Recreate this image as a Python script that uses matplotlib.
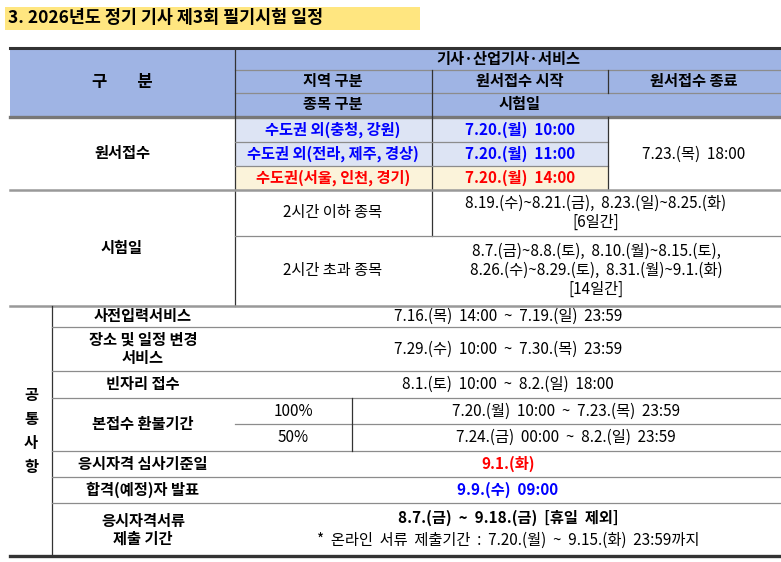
import matplotlib
matplotlib.use("Agg")
import matplotlib.pyplot as plt
from matplotlib.patches import Rectangle

plt.rcParams['font.family'] = ['Noto Sans CJK KR', 'DejaVu Sans']

title = "3. 2026년도 정기 기사 제3회 필기시험 일정"
header_top = "기사·산업기사·서비스"
header_cols = ["지역 구분", "원서접수 시작", "원서접수 종료"]
header_sub = ["종목 구분", "시험일"]
regions = ["수도권 외(충청, 강원)", "수도권 외(전라, 제주, 경상)", "수도권(서울, 인천, 경기)"]
starts = ["7.20.(월)  10:00", "7.20.(월)  11:00", "7.20.(월)  14:00"]
end_date = "7.23.(목)  18:00"
exam_types = ["2시간 이하 종목", "2시간 초과 종목"]
exam_dates = ["8.19.(수)~8.21.(금),  8.23.(일)~8.25.(화)\n[6일간]",
              "8.7.(금)~8.8.(토),  8.10.(월)~8.15.(토),\n8.26.(수)~8.29.(토),  8.31.(월)~9.1.(화)\n[14일간]"]
common_items = ["사전입력서비스", "장소 및 일정 변경\n서비스", "빈자리 접수", "본접수 환불기간",
                "응시자격 심사기준일", "합격(예정)자 발표", "응시자격서류\n제출 기간"]
common_values = ["7.16.(목)  14:00  ~  7.19.(일)  23:59", "7.29.(수)  10:00  ~  7.30.(목)  23:59",
                 "8.1.(토)  10:00  ~  8.2.(일)  18:00", None, "9.1.(화)", "9.9.(수)  09:00", None]
refund_pct = ["100%", "50%"]
refund_dates = ["7.20.(월)  10:00  ~  7.23.(목)  23:59", "7.24.(금)  00:00  ~  8.2.(일)  23:59"]
docs_main = "8.7.(금)  ~  9.18.(금)  [휴일  제외]"
docs_note = "*  온라인  서류  제출기간  :  7.20.(월)  ~  9.15.(화)  23:59까지"

fig = plt.figure(figsize=(7.81, 5.62), dpi=100)
ax = fig.add_axes([0, 0, 1, 1])
ax.set_xlim(0, 781); ax.set_ylim(562, 0); ax.axis('off')

FS = 11
def T(x, y, s, **kw):
    kw.setdefault('fontsize', FS)
    kw.setdefault('linespacing', 1.15)
    ax.text(x, y, s, ha='center', va='center', **kw)

def rect(x0, y0, x1, y1, c):
    ax.add_patch(Rectangle((x0, y0), x1 - x0, y1 - y0, color=c, lw=0, zorder=0))

def hl(y, x0, x1, lw=0.9, c='#8c8c8c'):
    ax.plot([x0, x1], [y, y], color=c, lw=lw, zorder=2)

def vl(x, y0, y1, lw=0.9, c='#333333'):
    ax.plot([x, x], [y0, y1], color=c, lw=lw, zorder=2)

# title
rect(5, 7, 420, 30, '#FFE680')
ax.text(8, 18, title, ha='left', va='center', fontsize=12.5, fontweight='bold')

L, R = 10, 781
# header
rect(L, 48, R, 117, '#9FB4E4')
hl(48, L, R, lw=2.2, c='#333333')
hl(70, 235, R); hl(93, 235, R)
hl(117, L, R, lw=2.4, c='#777777')
vl(235, 48, 306); vl(432, 70, 236); vl(608, 70, 93)
T(122, 82, "구        분", fontweight='bold', fontsize=12)
T(508, 59, header_top, fontweight='bold')
for x, s in zip([333, 520, 694], header_cols):
    T(x, 81, s, fontweight='bold')
T(333, 104, header_sub[0], fontweight='bold')
T(520, 104, header_sub[1], fontweight='bold')

# 원서접수
ys = [117, 142, 166, 190]
cols = ['#DDE4F4', '#DDE4F4', '#FBF3DA']
tcol = ['#0000FF', '#0000FF', '#FF0000']
for i in range(3):
    rect(235, ys[i], 608, ys[i + 1], cols[i])
    T(333, (ys[i] + ys[i + 1]) / 2, regions[i], color=tcol[i], fontweight='bold')
    T(520, (ys[i] + ys[i + 1]) / 2, starts[i], color=tcol[i], fontweight='bold')
hl(142, 235, 608); hl(166, 235, 608)
vl(608, 117, 190)
T(122, 153, "원서접수", fontweight='bold')
T(694, 154, end_date)
hl(190, L, R, lw=1.8, c='#999999')

# 시험일
T(122, 248, "시험일", fontweight='bold')
T(333, 213, exam_types[0]); T(596, 213, exam_dates[0])
hl(236, 235, R)
T(333, 270, exam_types[1]); T(596, 270, exam_dates[1])
hl(306, L, R, lw=1.8, c='#999999')

# 공통사항
rows = [306, 327, 371, 398, 451, 477, 503, 556]
vl(52, 306, 556)
T(31, 431, "공\n통\n사\n항", fontweight='bold', linespacing=1.6)
for i, item in enumerate(common_items):
    y0, y1 = rows[i], rows[i + 1]
    yc = (y0 + y1) / 2
    T(143, yc, item, fontweight='bold')
    v = common_values[i]
    if i == 4:
        T(508, yc, v, color='#FF0000', fontweight='bold')
    elif i == 5:
        T(508, yc, v, color='#0000FF', fontweight='bold')
    elif v is not None:
        T(508, yc, v)
    if i < len(common_items) - 1:
        hl(y1, 52, R)
# refund
hl(424, 235, R)
vl(352, 398, 451)
T(293, 411, refund_pct[0]); T(566, 411, refund_dates[0])
T(293, 437, refund_pct[1]); T(566, 437, refund_dates[1])
# docs
T(508, 518, docs_main, fontweight='bold')
T(508, 540, docs_note)
hl(556, L, R, lw=2.4, c='#333333')

fig.savefig("out.png", dpi=100)
